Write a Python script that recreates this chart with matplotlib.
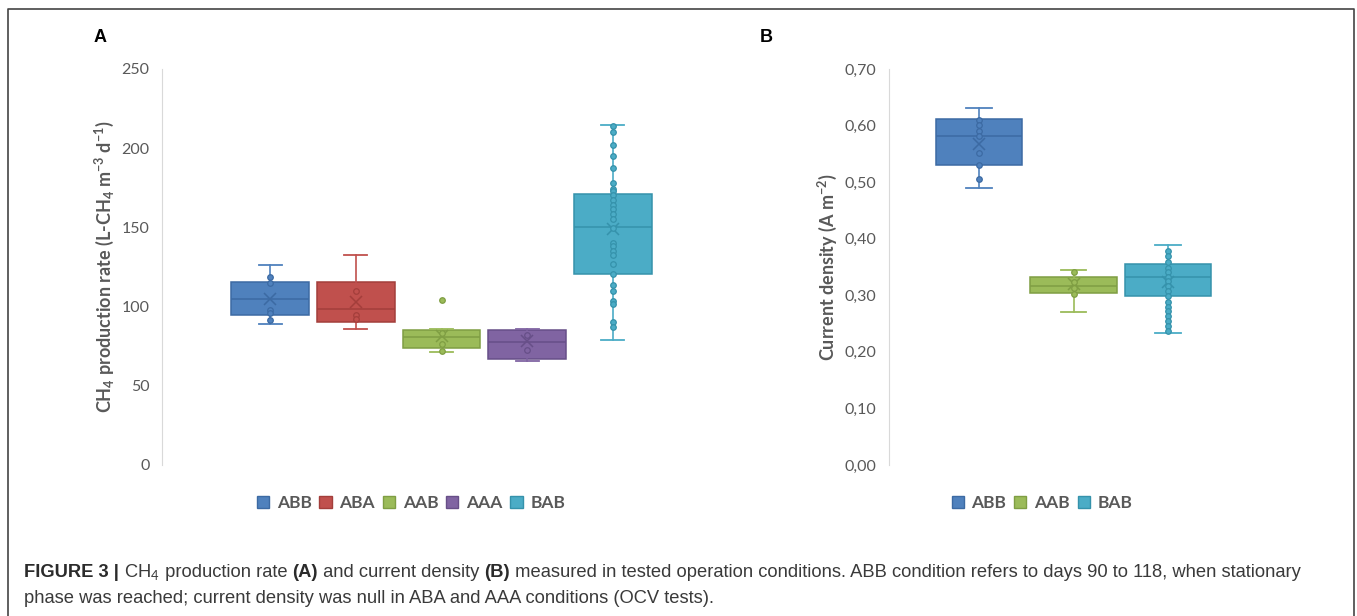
import matplotlib
matplotlib.use("Agg")
import matplotlib.pyplot as plt
from matplotlib.patches import Patch

plt.rcParams['font.family'] = ['Lato', 'DejaVu Sans']
plt.rcParams['mathtext.fontset'] = 'custom'
plt.rcParams['mathtext.rm'] = 'Lato'
plt.rcParams['mathtext.bf'] = 'Lato:bold'

# ---- data ----
# panel A: CH4 production rate (L-CH4 m-3 d-1)
cond_a = ['ABB', 'ABA', 'AAB', 'AAA', 'BAB']
q1_a = [94.4, 90.2, 74.0, 66.8, 120.4]
med_a = [105.0, 98.4, 80.5, 77.4, 150.0]
q3_a = [115.8, 115.8, 85.3, 85.3, 171.0]
lo_a = [89.3, 85.8, 71.2, 65.4, 79.2]
hi_a = [126.0, 132.8, 86.0, 86.0, 214.6]
mean_a = [104.5, 102.8, 81.5, 78.0, 149.2]
pts_a = [
    [118.5, 115.0, 98.0, 96.0, 91.6],
    [109.7, 94.6, 92.2],
    [104.2, 83.4, 76.5, 71.7],
    [81.8, 72.5],
    [214.2, 210.2, 202.2, 194.8, 187.5, 177.8, 174.5, 172.8, 170.4, 167.1,
     164.4, 161.4, 158.5, 155.1, 149.9, 140.4, 138.3, 135.4, 132.4, 126.7,
     120.4, 113.7, 109.9, 103.8, 101.9, 90.4, 87.2],
]

# panel B: current density (A m-2)
cond_b = ['ABB', 'AAB', 'BAB']
q1_b = [0.530, 0.304, 0.299]
med_b = [0.581, 0.316, 0.333]
q3_b = [0.611, 0.333, 0.355]
lo_b = [0.489, 0.270, 0.233]
hi_b = [0.631, 0.345, 0.389]
mean_b = [0.568, 0.320, 0.324]
pts_b = [
    [0.610, 0.601, 0.591, 0.581, 0.552, 0.530, 0.505],
    [0.342, 0.324, 0.313, 0.303],
    [0.378, 0.370, 0.358, 0.349, 0.342, 0.333, 0.326, 0.317, 0.308, 0.299,
     0.289, 0.280, 0.272, 0.263, 0.254, 0.245, 0.236],
]

ticks_a = [0, 50, 100, 150, 200, 250]
ticklabels_a = ['0', '50', '100', '150', '200', '250']
ticks_b = [0, 0.1, 0.2, 0.3, 0.4, 0.5, 0.6, 0.7]
ticklabels_b = ['0,00', '0,10', '0,20', '0,30', '0,40', '0,50', '0,60', '0,70']

fill = {'ABB': '#4f81bd', 'ABA': '#c0504d', 'AAB': '#9bbb59',
        'AAA': '#8064a2', 'BAB': '#4bacc6'}
dark = {'ABB': '#3c6aa3', 'ABA': '#a33e3b', 'AAB': '#7f9e43',
        'AAA': '#674f88', 'BAB': '#3592ab'}

W, H = 1357, 616
fig = plt.figure(figsize=(W / 100, H / 100), dpi=100)
grey = '#595959'


def draw_panel(rect, names, q1, med, q3, lo, hi, mean, pts, xlim, ylim):
    l, t, r, b = rect
    ax = fig.add_axes([l / W, 1 - b / H, (r - l) / W, (b - t) / H])
    pos = list(range(1, len(names) + 1))
    stats = []
    for i in range(len(names)):
        stats.append(dict(q1=q1[i], med=med[i], q3=q3[i], whislo=lo[i],
                          whishi=hi[i], mean=mean[i], fliers=[]))
    bp = ax.bxp(stats, positions=pos, widths=0.91, capwidths=0.27,
                patch_artist=True, showmeans=True, showfliers=False)
    for i, n in enumerate(names):
        bp['boxes'][i].set(facecolor=fill[n], edgecolor=dark[n], linewidth=1.1)
        bp['medians'][i].set(color=dark[n], linewidth=1.1)
        for k in (2 * i, 2 * i + 1):
            bp['whiskers'][k].set(color=fill[n], linewidth=1.2)
            bp['caps'][k].set(color=fill[n], linewidth=1.3)
        bp['means'][i].set(marker='x', markeredgecolor=dark[n],
                           markersize=8, markeredgewidth=1.1)
        ax.scatter([pos[i]] * len(pts[i]), pts[i], s=16, facecolor=fill[n],
                   edgecolor=dark[n], linewidth=0.9, zorder=4)
    ax.set_xlim(*xlim)
    ax.set_ylim(*ylim)
    ax.set_xticks([])
    for s in ('top', 'right', 'bottom'):
        ax.spines[s].set_visible(False)
    ax.spines['left'].set_color('#d9d9d9')
    ax.tick_params(axis='y', length=0, pad=9, labelsize=11.5, labelcolor=grey)
    return ax


ax1 = draw_panel((162, 69, 721, 465), cond_a, q1_a, med_a, q3_a, lo_a, hi_a,
                 mean_a, pts_a, (-0.263, 6.263), (0, 250))
ax1.set_yticks(ticks_a)
ax1.set_yticklabels(ticklabels_a)
ax1.set_ylabel(r'CH$_\mathbf{4}$ production rate (L-CH$_\mathbf{4}$ m$^\mathbf{-3}$ d$^\mathbf{-1}$)',
               fontsize=13, fontweight='bold', color=grey)
ax1.yaxis.set_label_coords(-0.082, 0.5)

ax2 = draw_panel((889, 69, 1258, 465), cond_b, q1_b, med_b, q3_b, lo_b, hi_b,
                 mean_b, pts_b, (0.053, 3.947), (0, 0.7))
ax2.set_yticks(ticks_b)
ax2.set_yticklabels(ticklabels_b)
ax2.set_ylabel(r'Current density (A m$^\mathbf{-2}$)',
               fontsize=13, fontweight='bold', color=grey)
ax2.yaxis.set_label_coords(-0.136, 0.5)

# legends
for names, cx in ((cond_a, 411), (cond_b, 1042)):
    handles = [Patch(facecolor=fill[n], edgecolor=dark[n]) for n in names]
    fig.legend(handles, names, loc='center', bbox_to_anchor=(cx / W, 1 - 503 / H),
               ncol=len(names), frameon=False, handlelength=0.7, handleheight=0.7,
               handletextpad=0.45, columnspacing=0.45,
               prop=dict(family=['Lato', 'DejaVu Sans'], weight='bold', size=12.5),
               labelcolor=grey)

# panel letters
fig.text(100 / W, 1 - 38 / H, 'A', fontsize=13, fontweight='bold',
         family='Liberation Sans', ha='center', va='center')
fig.text(766 / W, 1 - 37 / H, 'B', fontsize=13, fontweight='bold',
         family='Liberation Sans', ha='center', va='center')

# outer frame (open at bottom)
fig.add_artist(plt.Line2D([8 / W, 8 / W, 1354 / W, 1354 / W],
                          [0, 1 - 9 / H, 1 - 9 / H, 0],
                          transform=fig.transFigure, color='#444444', linewidth=1.2))

# caption, pieces laid out one after another on the same baseline
cap_font = dict(family=['Liberation Sans', 'DejaVu Sans'], fontsize=13.2)
line1 = [('FIGURE 3 | ', 'bold'), (r'CH$_4$', 'normal'), (' production rate ', 'normal'),
         ('(A)', 'bold'), (' and current density ', 'normal'), ('(B)', 'bold'),
         (' measured in tested operation conditions. ABB condition refers to days 90 to 118, when stationary',
          'normal')]
line2 = 'phase was reached; current density was null in ABA and AAA conditions (OCV tests).'

renderer = fig.canvas.get_renderer()
x = 24
for txt, wt in line1:
    t = fig.text(x / W, 1 - 577 / H, txt, fontweight=wt, va='baseline', ha='left',
                 color='#2b2b2b' if wt == 'bold' else '#3a3a3a', **cap_font)
    x += t.get_window_extent(renderer).width
fig.text(24 / W, 1 - 603 / H, line2, color='#3a3a3a', va='baseline', **cap_font)

fig.savefig('out.png', dpi=100)
